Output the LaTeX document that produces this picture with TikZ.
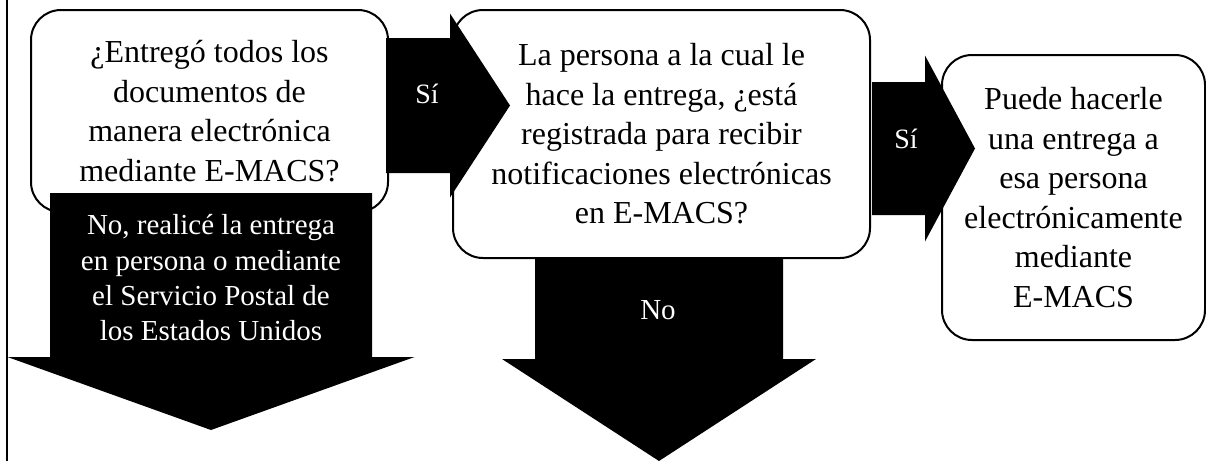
\documentclass[tikz,border=0pt]{standalone}
\usepackage{fontspec}
\setmainfont{Liberation Serif}
\usetikzlibrary{positioning}
\tikzset{
  flow/.style={
    box/.style={draw=black, line width=2pt, fill=white, rounded corners=30pt,
        align=center, inner sep=0pt, font={\fontsize{32}{39.5}\selectfont}},
    block arrow/.style={fill=black, draw=none},
    arrow label/.style={text=white, align=center, font={\fontsize{29}{35.3}\selectfont}},
    small label/.style={text=white, font={\fontsize{28}{32}\selectfont}},
    page line/.style={draw=black, line width=2pt}
  }
}
% block arrow pointing right: start x, head base x, tip x, mid y, half shaft, half head
\newcommand{\blockright}[6]{
    \path[block arrow] (#1,#4-#5) -- (#2,#4-#5) -- (#2,#4-#6) -- (#3,#4)
        -- (#2,#4+#6) -- (#2,#4+#5) -- (#1,#4+#5) -- cycle;
}
% block arrow pointing down: mid x, start y, head base y, tip y, half shaft, half head
\newcommand{\blockdown}[6]{
    \path[block arrow] (#1-#5,#2) -- (#1-#5,#3) -- (#1-#6,#3) -- (#1,#4)
        -- (#1+#6,#3) -- (#1+#5,#3) -- (#1+#5,#2) -- cycle;
}

\begin{document}
\begin{tikzpicture}[flow, x=1pt, y=-1pt]
    \useasboundingbox (0,0) rectangle (1206,461);
    \draw[page line] (7,0) -- (7,461);

    % question boxes
    \node[box, minimum width=357pt, minimum height=202pt] (entrega) at (209.5,111)
        {¿Entregó todos los\\documentos de\\manera electrónica\\mediante E-MACS?};
    \node[box, minimum width=417pt, minimum height=248pt] (registrada) at (661.5,134)
        {La persona a la cual le\\hace la entrega, ¿está\\registrada para recibir\\notificaciones electrónicas\\en E-MACS?};
    \node[box, minimum width=263pt, minimum height=285pt] (puede) at (1073.5,197.5)
        {Puede hacerle\\una entrega a\\esa persona\\electrónicamente\\mediante\\E-MACS};

    % arrows
    \blockright{386}{450}{510}{105.5}{67.5}{92}
    \blockright{872}{925}{975}{148.5}{66.5}{93}
    \blockdown{211}{193}{357}{430}{161}{203.5}
    \blockdown{659}{258}{359}{461}{124}{157}

    \node[small label, anchor=base] (si1) at (427,103) {Sí};
    \node[small label, anchor=base] (si2) at (906,148) {Sí};
    \node[arrow label] (noentrega) at (211,278)
        {No, realicé la entrega\\en persona o mediante\\el Servicio Postal de\\los Estados Unidos};
    \node[arrow label, anchor=base] (noregistro) at (658,319) {No};
\end{tikzpicture}
\end{document}
